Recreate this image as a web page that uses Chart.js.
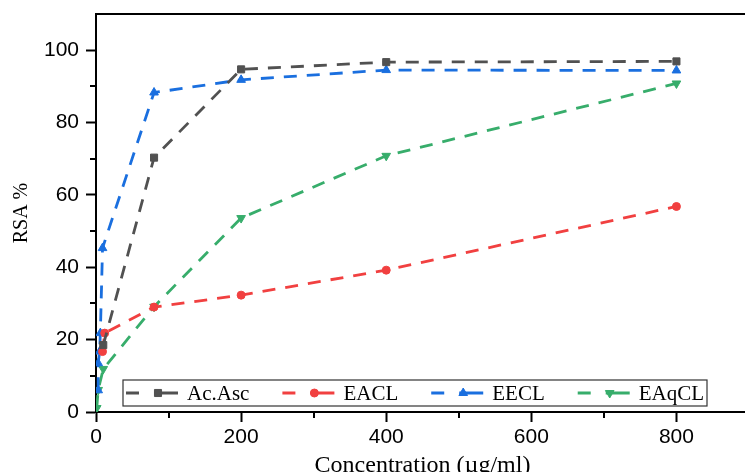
<!DOCTYPE html>
<html>
<head>
<meta charset="utf-8">
<script src="https://cdn.jsdelivr.net/npm/chart.js@4.4.0/dist/chart.umd.min.js"></script>
<style>
  html, body { margin: 0; padding: 0; background: #fff; overflow: hidden; }
  #wrap { width: 755px; height: 480px; }
</style>
</head>
<body>
<div id="wrap"><canvas id="rsaChart" width="755" height="480"></canvas></div>
<script>
// Series data
const seriesNames = ['Ac.Asc', 'EACL', 'EECL', 'EAqCL'];

const ascX = [10, 80, 200, 400, 800];
const ascY = [18.5, 70.3, 94.7, 96.7, 96.9];

const eaclX = [9, 12, 80, 200, 400, 800];
const eaclY = [16.7, 21.8, 29.0, 32.3, 39.2, 56.8];

const eeclX = [3, 3, 5, 6, 9, 80, 200, 400, 800];
const eeclY = [6.0, 13.5, 16.7, 21.8, 45.3, 88.3, 91.8, 94.5, 94.4];

const eaqclX = [1, 3, 10, 80, 200, 400, 800];
const eaqclY = [1.1, 6.1, 11.9, 29.1, 53.6, 70.8, 90.8];

const xTicksMajor = [0, 200, 400, 600, 800];
const yTicksMajor = [0, 20, 40, 60, 80, 100];

const colors = ['#515151', '#F14040', '#1A6FDF', '#37AD6B'];
const markers = ['rect', 'circle', 'triangle', 'triangle'];
const markerRot = [0, 0, 0, 180];
const markerSize = [5, 4, 5, 5];

function toPoints(xs, ys) {
  return xs.map((x, i) => ({ x: x, y: ys[i] }));
}

const allX = [ascX, eaclX, eeclX, eaqclX];
const allY = [ascY, eaclY, eeclY, eaqclY];

const datasets = seriesNames.map((name, i) => ({
  label: name,
  data: toPoints(allX[i], allY[i]),
  borderColor: colors[i],
  backgroundColor: colors[i],
  borderWidth: 2.8,
  borderDash: [13, 10],
  pointStyle: markers[i],
  pointRotation: markerRot[i],
  pointRadius: markerSize[i],
  pointBackgroundColor: colors[i],
  pointBorderColor: colors[i],
  pointBorderWidth: 1,
  tension: 0
}));

const serif = 'Liberation Serif';
const sans = 'Liberation Sans';

function noPad(s) {
  s.paddingTop = 0; s.paddingBottom = 0;
  s.paddingLeft = 0; s.paddingRight = 0;
}

// minor ticks (shorter) drawn with the scales' own pixel mapping
const minorTicks = {
  id: 'minorTicks',
  afterDraw(chart) {
    const ctx = chart.ctx;
    const xs = chart.scales.x, ys = chart.scales.y;
    ctx.save();
    ctx.strokeStyle = '#000';
    ctx.lineWidth = 2;
    xs.ticks.forEach(t => {
      if (xTicksMajor.includes(t.value)) return;
      const px = Math.round(xs.getPixelForValue(t.value));
      ctx.beginPath();
      ctx.moveTo(px, xs.top);
      ctx.lineTo(px, xs.top + 6);
      ctx.stroke();
    });
    ys.ticks.forEach(t => {
      if (yTicksMajor.includes(t.value)) return;
      const py = Math.round(ys.getPixelForValue(t.value));
      ctx.beginPath();
      ctx.moveTo(ys.right, py);
      ctx.lineTo(ys.right - 6, py);
      ctx.stroke();
    });
    ctx.restore();
  }
};

// boxed legend inside the plot, like the original
const boxLegend = {
  id: 'boxLegend',
  afterDraw(chart) {
    const ctx = chart.ctx;
    const box = { left: 123, top: 380, right: 707, bottom: 406 };
    const midY = (box.top + box.bottom) / 2;
    ctx.save();
    ctx.setLineDash([]);
    ctx.fillStyle = '#fff';
    ctx.fillRect(box.left, box.top, box.right - box.left, box.bottom - box.top);
    ctx.strokeStyle = '#333';
    ctx.lineWidth = 1.2;
    ctx.strokeRect(box.left, box.top, box.right - box.left, box.bottom - box.top);
    ctx.font = '21px ' + serif;
    ctx.textBaseline = 'middle';
    ctx.textAlign = 'left';
    let s = box.left + 3;
    chart.data.datasets.forEach(ds => {
      ctx.strokeStyle = ds.borderColor;
      ctx.lineWidth = 2.8;
      ctx.beginPath();
      ctx.moveTo(s, midY); ctx.lineTo(s + 13, midY);
      ctx.moveTo(s + 28, midY); ctx.lineTo(s + 52, midY);
      ctx.stroke();
      ctx.fillStyle = ds.borderColor;
      ctx.lineWidth = 1;
      Chart.helpers.drawPoint(ctx, {
        pointStyle: ds.pointStyle,
        rotation: ds.pointRotation,
        radius: ds.pointRadius,
        borderWidth: 1
      }, s + 32, midY);
      ctx.fillStyle = '#000';
      const tx = s + 61;
      ctx.fillText(ds.label, tx, midY + 1);
      s = tx + ctx.measureText(ds.label).width + 33;
    });
    ctx.restore();
  }
};

new Chart(document.getElementById('rsaChart'), {
  type: 'line',
  data: { datasets: datasets },
  options: {
    responsive: false,
    animation: false,
    layout: { padding: { top: 14, left: 0, right: 0, bottom: 0 } },
    plugins: {
      legend: { display: false },
      tooltip: { enabled: false }
    },
    scales: {
      x: {
        type: 'linear',
        position: 'bottom',
        min: 0,
        max: 900,
        afterBuildTicks: s => { s.ticks = s.ticks.filter(t => t.value % 100 === 0); },
        afterFit: s => { s.height = 68; noPad(s); },
        ticks: {
          stepSize: 100,
          autoSkip: false,
          maxRotation: 0,
          padding: 3,
          color: '#000',
          font: { family: sans, size: 21 },
          callback: v => xTicksMajor.includes(v) ? v : ''
        },
        grid: {
          drawOnChartArea: false,
          tickLength: 10,
          tickWidth: 2,
          tickColor: c => (c.tick && xTicksMajor.includes(c.tick.value)) ? '#000' : 'rgba(0,0,0,0)'
        },
        border: { color: '#000', width: 2 },
        title: {
          display: true,
          text: 'Concentration (µg/ml)',
          color: '#000',
          font: { family: serif, size: 24 },
          padding: { top: 3, bottom: 0 }
        }
      },
      x2: {
        type: 'linear',
        position: 'top',
        min: 0,
        max: 900,
        afterFit: s => { s.height = 0; noPad(s); },
        ticks: { display: false },
        grid: { display: false, drawTicks: false },
        border: { color: '#000', width: 2 }
      },
      y: {
        min: 0,
        max: 110,
        afterBuildTicks: s => { s.ticks = s.ticks.filter(t => t.value <= 100); },
        afterFit: s => { s.width = 96; noPad(s); },
        ticks: {
          stepSize: 10,
          autoSkip: false,
          padding: 7,
          color: '#000',
          font: { family: sans, size: 21 },
          callback: v => yTicksMajor.includes(v) ? v : ''
        },
        grid: {
          drawOnChartArea: false,
          tickLength: 10,
          tickWidth: 2,
          tickColor: c => (c.tick && yTicksMajor.includes(c.tick.value)) ? '#000' : 'rgba(0,0,0,0)'
        },
        border: { color: '#000', width: 2 },
        title: {
          display: true,
          text: 'RSA %',
          color: '#000',
          font: { family: serif, size: 20 },
          padding: { top: 10, bottom: 0 }
        }
      }
    }
  },
  plugins: [minorTicks, boxLegend]
});
</script>
</body>
</html>
